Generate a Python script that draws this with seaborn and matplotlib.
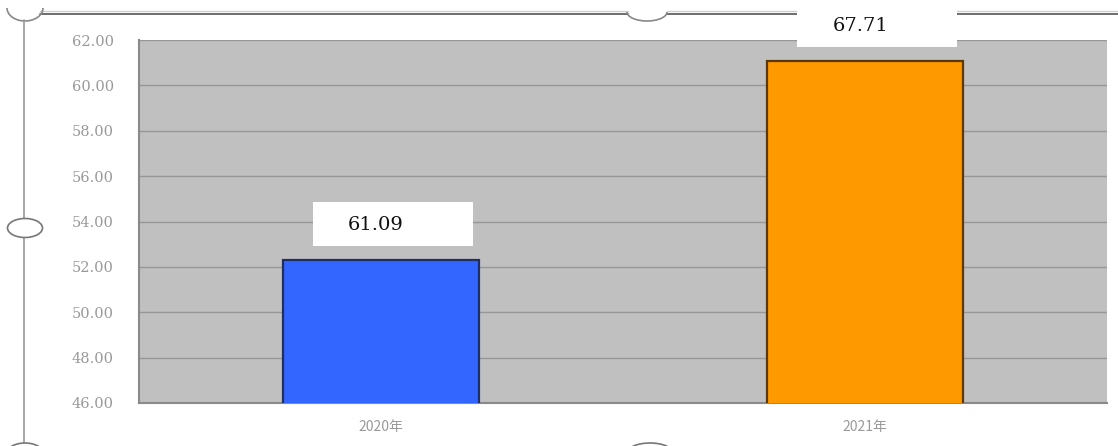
import matplotlib
matplotlib.use("Agg")
import matplotlib.pyplot as plt
import seaborn as sns
import pandas as pd
from matplotlib.patches import Rectangle, Ellipse, Arc
from matplotlib.lines import Line2D

# ---- data ----
categories = ["2020年", "2021年"]
bar_heights = [52.3, 61.07]
value_labels = ["61.09", "67.71"]
bar_colors = ["#3366FF", "#FF9900"]
edge_colors = ["#1F2F66", "#5A3800"]
y_ticks = [46, 48, 50, 52, 54, 56, 58, 60, 62]

sns.set_theme(style="white")
plt.rcParams["font.family"] = ["DejaVu Serif", "Noto Sans CJK SC"]

W, H = 1118, 446
fig = plt.figure(figsize=(W / 100, H / 100), dpi=100)
fig.patch.set_facecolor("white")
ax = fig.add_axes([139 / W, 1 - 403 / H, 968 / W, 363 / H])

df = pd.DataFrame({"year": categories, "value": bar_heights})
sns.barplot(data=df, x="year", y="value", hue="year", palette=bar_colors,
            legend=False, width=0.403, ax=ax, zorder=3, saturation=1)
for p, ec in zip(ax.patches, edge_colors):
    p.set_edgecolor(ec)
    p.set_linewidth(1.6)

ax.set_facecolor("#C0C0C0")
ax.set_xlim(-0.5, 1.5)
ax.set_ylim(46, 62)
ax.set_yticks(y_ticks)
ax.set_yticklabels([f"{t:.2f}" for t in y_ticks], color="#999999", fontsize=10.5)
ax.tick_params(axis="y", length=0, pad=18)
ax.tick_params(axis="x", length=0, pad=12)
ax.set_xticks(range(len(categories)))
ax.set_xticklabels(categories, color="#999999", fontsize=10,
                   family=["Noto Sans CJK SC"])
ax.grid(axis="y", color="#979797", linewidth=1.0, zorder=1)
ax.set_axisbelow(True)
ax.set_xlabel("")
ax.set_ylabel("")
for side in ["top", "right"]:
    ax.spines[side].set_visible(False)
for side in ["left", "bottom"]:
    ax.spines[side].set_color("#8A8A8A")
    ax.spines[side].set_linewidth(1.5)

# value label boxes
for i, (v, lab) in enumerate(zip(bar_heights, value_labels)):
    ax.add_patch(Rectangle((i - 0.14, v + 0.6), 0.33, 1.95, facecolor="white",
                           edgecolor="none", zorder=6, clip_on=False))
    ax.text(i - 0.01, v + 1.55, lab, ha="center", va="center", fontsize=14,
            color="#111111", family="DejaVu Serif", zorder=7, clip_on=False)

# ---- decorative frame (figure coords) ----
def fx(x):
    return x / W

def fy(y):
    return 1 - y / H

deco = dict(transform=fig.transFigure, zorder=-1)
fig.add_artist(Line2D([fx(40), fx(628)], [fy(11), fy(11)], color="#D0D0D0", lw=1, **deco))
fig.add_artist(Line2D([fx(40), fx(628)], [fy(14), fy(14)], color="#555555", lw=1.2, **deco))
fig.add_artist(Line2D([fx(667), fx(W)], [fy(11), fy(11)], color="#D0D0D0", lw=1, **deco))
fig.add_artist(Line2D([fx(667), fx(W)], [fy(14), fy(14)], color="#555555", lw=1.2, **deco))
fig.add_artist(Arc((fx(25), fy(8)), 36 / W, 26 / H, theta1=180, theta2=360,
                   color="#888888", lw=1.2, **deco))
fig.add_artist(Arc((fx(647), fy(12)), 40 / W, 18 / H, theta1=180, theta2=360,
                   color="#888888", lw=1.2, **deco))
fig.add_artist(Line2D([fx(24), fx(24)], [fy(20), fy(H)], color="#999999", lw=1.2, **deco))
for (cx, cy, w, h) in [(25, 228, 35, 19), (25, 453, 36, 20), (650, 453, 46, 20)]:
    fig.add_artist(Ellipse((fx(cx), fy(cy)), w / W, h / H, facecolor="white",
                           edgecolor="#777777", lw=1.2, transform=fig.transFigure,
                           zorder=-0.5))

fig.savefig("out.png", dpi=100)
